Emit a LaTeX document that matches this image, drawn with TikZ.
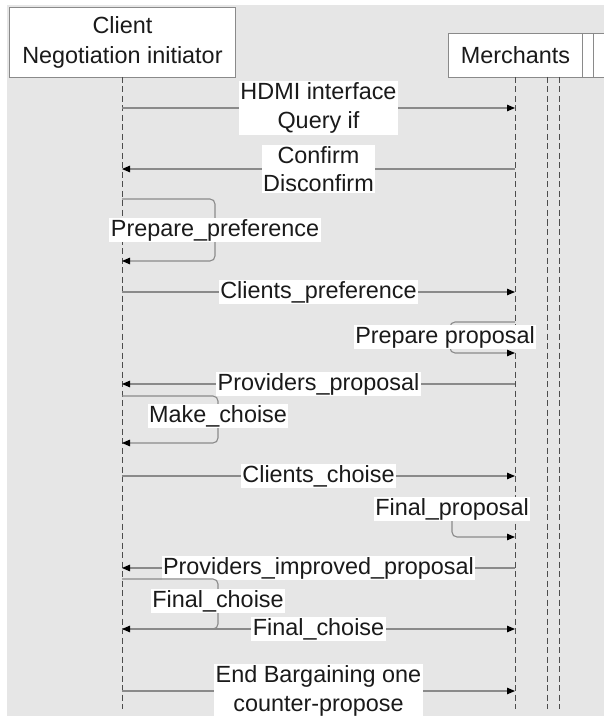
\documentclass[tikz,border=0pt]{standalone}
\usepackage{fontspec}
\setmainfont{Liberation Sans}
\usetikzlibrary{arrows.meta}
\definecolor{panel}{HTML}{E6E6E6}
\definecolor{wire}{HTML}{8A8A8A}
\definecolor{lifeln}{HTML}{4D4D4D}
\definecolor{ink}{HTML}{1A1A1A}
\tikzset{
  actor/.style={draw=wire, line width=0.9pt, fill=white, inner sep=0pt},
  lifeline/.style={draw=lifeln, line width=0.9pt, dash pattern=on 6pt off 3.5pt},
  msg/.style={draw=wire, line width=1.1pt,
    -{Triangle[length=8pt,width=6.5pt,color=black]}},
  lbl/.style={fill=white, text=ink, inner xsep=1.5pt, inner ysep=1.5pt,
    align=center, font=\fontsize{23.4}{28.5}\selectfont},
  loopline/.style={msg, rounded corners=5pt}
}
\begin{document}
\begin{tikzpicture}[x=1pt, y=-1pt]
  \useasboundingbox (0,0) rectangle (604,719);
  \clip (0,0) rectangle (604,719);
  % panel
  \fill[panel] (7,5) rectangle (604,716);

  % participants
  \node[actor, minimum width=226pt, minimum height=70pt, anchor=north west,
        text=ink, align=center, font=\fontsize{23.4}{30}\selectfont]
        (client) at (9,7) {Client\\Negotiation initiator};
  \node[actor, minimum width=134pt, minimum height=44pt, anchor=north west,
        text=ink, font=\fontsize{23.4}{28}\selectfont]
        (merch) at (448,33) {Merchants};
  \node[actor, minimum width=11pt, minimum height=44pt, anchor=north west]
        (extraA) at (582,33) {};
  \node[actor, minimum width=30pt, minimum height=44pt, anchor=north west]
        (extraB) at (593,33) {};

  % lifelines
  \coordinate (cTop) at (122,77);   \coordinate (cBot) at (122,709);
  \coordinate (mTop) at (515,77);   \coordinate (mBot) at (515,709);
  \coordinate (aTop) at (547,77);   \coordinate (aBot) at (547,709);
  \coordinate (bTop) at (559,77);   \coordinate (bBot) at (559,709);
  \draw[lifeline] (cTop) -- (cBot);
  \draw[lifeline] (mTop) -- (mBot);
  \draw[lifeline] (aTop) -- (aBot);
  \draw[lifeline] (bTop) -- (bBot);

  % message end points
  \coordinate (c1) at (122,108);  \coordinate (m1) at (515,108);
  \coordinate (c2) at (122,169);  \coordinate (m2) at (515,169);
  \coordinate (c4) at (122,292);  \coordinate (m4) at (515,292);
  \coordinate (c6) at (122,384);  \coordinate (m6) at (515,384);
  \coordinate (c8) at (122,476);  \coordinate (m8) at (515,476);
  \coordinate (c10) at (122,568); \coordinate (m10) at (515,568);
  \coordinate (c12) at (122,629); \coordinate (m12) at (515,629);
  \coordinate (c13) at (122,691); \coordinate (m13) at (515,691);

  % self-message anchors
  \coordinate (pfA) at (122,199); \coordinate (pfX) at (215,230); \coordinate (pfB) at (122,261);
  \coordinate (ppA) at (515,322); \coordinate (ppX) at (450,337); \coordinate (ppB) at (515,353);
  \coordinate (mcA) at (122,396); \coordinate (mcX) at (218,418); \coordinate (mcB) at (122,443);
  \coordinate (fpA) at (515,500); \coordinate (fpX) at (452,509); \coordinate (fpB) at (515,537);
  \coordinate (fcA) at (122,579); \coordinate (fcX) at (218,601); \coordinate (fcB) at (122,629);

  % messages
  \draw[msg] (c1) -- (m1) node[lbl, pos=0.5] {HDMI interface\\Query if};
  \draw[msg] (m2) -- (c2) node[lbl, pos=0.5] {Confirm\\Disconfirm};
  \draw[loopline] (pfA) -| (pfX) |- (pfB);
  \node[lbl] (pfL) at (pfX) {Prepare\_preference};
  \draw[msg] (c4) -- (m4) node[lbl, pos=0.5] {Clients\_preference};
  \draw[loopline] (ppA) -| (ppX) |- (ppB);
  \node[lbl] (ppL) at (445,337) {Prepare proposal};
  \draw[msg] (m6) -- (c6) node[lbl, pos=0.5] {Providers\_proposal};
  \draw[loopline] (mcA) -| (mcX) |- (mcB);
  \node[lbl] (mcL) at (218,416) {Make\_choise};
  \draw[msg] (c8) -- (m8) node[lbl, pos=0.5] {Clients\_choise};
  \draw[loopline] (fpA) -| (fpX) |- (fpB);
  \node[lbl] (fpL) at (fpX) {Final\_proposal};
  \draw[msg] (m10) -- (c10) node[lbl, pos=0.5] {Providers\_improved\_proposal};
  \draw[msg] (c12) -- (m12) node[lbl, pos=0.5] {Final\_choise};
  \draw[loopline] (fcA) -| (fcX) |- (fcB);
  \node[lbl] (fcL) at (fcX) {Final\_choise};
  \draw[msg] (c13) -- (m13) node[lbl, pos=0.5] {End Bargaining one\\counter-propose};
\end{tikzpicture}
\end{document}
